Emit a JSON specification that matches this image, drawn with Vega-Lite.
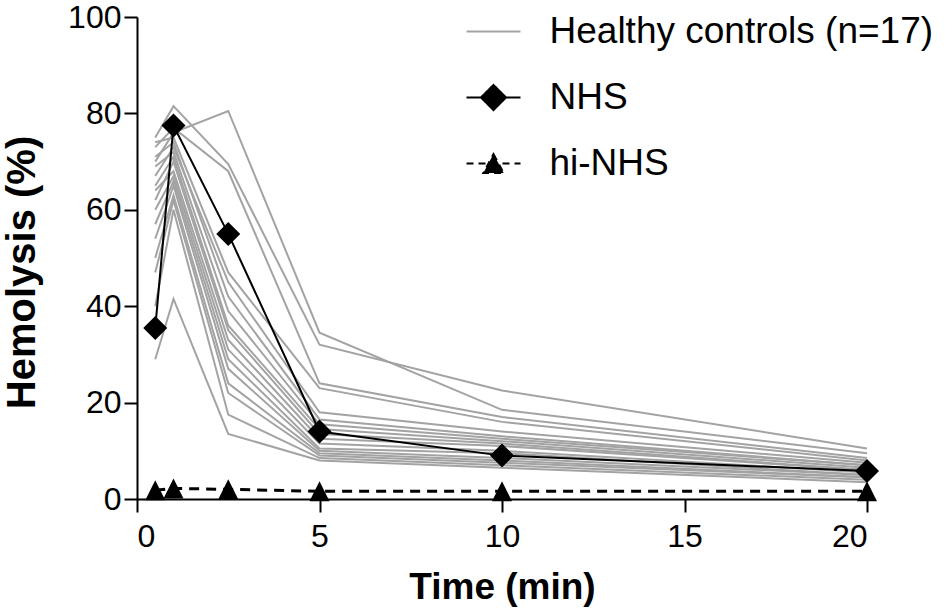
{
  "$schema": "https://vega.github.io/schema/vega-lite/v6.json",
  "width": 730,
  "height": 482,
  "autosize": {"type": "none"},
  "padding": {"left": 137, "top": 17, "right": 78, "bottom": 110},
  "background": "white",
  "config": {
    "view": {"stroke": null},
    "axis": {
      "grid": false,
      "domainColor": "black",
      "domainWidth": 2,
      "tickColor": "black",
      "tickWidth": 2,
      "tickSize": 13,
      "labelFont": "Liberation Sans",
      "labelFontSize": 32,
      "labelColor": "black",
      "titleFont": "Liberation Sans",
      "titleFontWeight": "bold",
      "titleColor": "black"
    }
  },
  "data": {
    "values": [
      {"group": "Healthy controls (n=17)", "subject": "H1", "time": 0.5, "value": 70},
      {"group": "Healthy controls (n=17)", "subject": "H1", "time": 1, "value": 76},
      {"group": "Healthy controls (n=17)", "subject": "H1", "time": 2.5, "value": 80.5},
      {"group": "Healthy controls (n=17)", "subject": "H1", "time": 5, "value": 34.5},
      {"group": "Healthy controls (n=17)", "subject": "H1", "time": 10, "value": 18.5},
      {"group": "Healthy controls (n=17)", "subject": "H1", "time": 20, "value": 9.5},
      {"group": "Healthy controls (n=17)", "subject": "H2", "time": 0.5, "value": 75},
      {"group": "Healthy controls (n=17)", "subject": "H2", "time": 1, "value": 81.5},
      {"group": "Healthy controls (n=17)", "subject": "H2", "time": 2.5, "value": 69.5},
      {"group": "Healthy controls (n=17)", "subject": "H2", "time": 5, "value": 32},
      {"group": "Healthy controls (n=17)", "subject": "H2", "time": 10, "value": 22.5},
      {"group": "Healthy controls (n=17)", "subject": "H2", "time": 20, "value": 10.5},
      {"group": "Healthy controls (n=17)", "subject": "H3", "time": 0.5, "value": 73},
      {"group": "Healthy controls (n=17)", "subject": "H3", "time": 1, "value": 77},
      {"group": "Healthy controls (n=17)", "subject": "H3", "time": 2.5, "value": 68},
      {"group": "Healthy controls (n=17)", "subject": "H3", "time": 5, "value": 24},
      {"group": "Healthy controls (n=17)", "subject": "H3", "time": 10, "value": 17},
      {"group": "Healthy controls (n=17)", "subject": "H3", "time": 20, "value": 8.5},
      {"group": "Healthy controls (n=17)", "subject": "H4", "time": 0.5, "value": 74},
      {"group": "Healthy controls (n=17)", "subject": "H4", "time": 1, "value": 75},
      {"group": "Healthy controls (n=17)", "subject": "H4", "time": 2.5, "value": 47},
      {"group": "Healthy controls (n=17)", "subject": "H4", "time": 5, "value": 23},
      {"group": "Healthy controls (n=17)", "subject": "H4", "time": 10, "value": 16},
      {"group": "Healthy controls (n=17)", "subject": "H4", "time": 20, "value": 8},
      {"group": "Healthy controls (n=17)", "subject": "H5", "time": 0.5, "value": 67},
      {"group": "Healthy controls (n=17)", "subject": "H5", "time": 1, "value": 73},
      {"group": "Healthy controls (n=17)", "subject": "H5", "time": 2.5, "value": 45},
      {"group": "Healthy controls (n=17)", "subject": "H5", "time": 5, "value": 18},
      {"group": "Healthy controls (n=17)", "subject": "H5", "time": 10, "value": 14},
      {"group": "Healthy controls (n=17)", "subject": "H5", "time": 20, "value": 7.5},
      {"group": "Healthy controls (n=17)", "subject": "H6", "time": 0.5, "value": 71},
      {"group": "Healthy controls (n=17)", "subject": "H6", "time": 1, "value": 74},
      {"group": "Healthy controls (n=17)", "subject": "H6", "time": 2.5, "value": 42},
      {"group": "Healthy controls (n=17)", "subject": "H6", "time": 5, "value": 16.5},
      {"group": "Healthy controls (n=17)", "subject": "H6", "time": 10, "value": 13},
      {"group": "Healthy controls (n=17)", "subject": "H6", "time": 20, "value": 7},
      {"group": "Healthy controls (n=17)", "subject": "H7", "time": 0.5, "value": 69},
      {"group": "Healthy controls (n=17)", "subject": "H7", "time": 1, "value": 72},
      {"group": "Healthy controls (n=17)", "subject": "H7", "time": 2.5, "value": 39},
      {"group": "Healthy controls (n=17)", "subject": "H7", "time": 5, "value": 15.5},
      {"group": "Healthy controls (n=17)", "subject": "H7", "time": 10, "value": 12.5},
      {"group": "Healthy controls (n=17)", "subject": "H7", "time": 20, "value": 7},
      {"group": "Healthy controls (n=17)", "subject": "H8", "time": 0.5, "value": 65},
      {"group": "Healthy controls (n=17)", "subject": "H8", "time": 1, "value": 71},
      {"group": "Healthy controls (n=17)", "subject": "H8", "time": 2.5, "value": 36},
      {"group": "Healthy controls (n=17)", "subject": "H8", "time": 5, "value": 14.5},
      {"group": "Healthy controls (n=17)", "subject": "H8", "time": 10, "value": 12},
      {"group": "Healthy controls (n=17)", "subject": "H8", "time": 20, "value": 6.5},
      {"group": "Healthy controls (n=17)", "subject": "H9", "time": 0.5, "value": 62},
      {"group": "Healthy controls (n=17)", "subject": "H9", "time": 1, "value": 70},
      {"group": "Healthy controls (n=17)", "subject": "H9", "time": 2.5, "value": 35},
      {"group": "Healthy controls (n=17)", "subject": "H9", "time": 5, "value": 13.5},
      {"group": "Healthy controls (n=17)", "subject": "H9", "time": 10, "value": 11.5},
      {"group": "Healthy controls (n=17)", "subject": "H9", "time": 20, "value": 6},
      {"group": "Healthy controls (n=17)", "subject": "H10", "time": 0.5, "value": 64},
      {"group": "Healthy controls (n=17)", "subject": "H10", "time": 1, "value": 68},
      {"group": "Healthy controls (n=17)", "subject": "H10", "time": 2.5, "value": 33},
      {"group": "Healthy controls (n=17)", "subject": "H10", "time": 5, "value": 12.5},
      {"group": "Healthy controls (n=17)", "subject": "H10", "time": 10, "value": 11},
      {"group": "Healthy controls (n=17)", "subject": "H10", "time": 20, "value": 6},
      {"group": "Healthy controls (n=17)", "subject": "H11", "time": 0.5, "value": 60},
      {"group": "Healthy controls (n=17)", "subject": "H11", "time": 1, "value": 67},
      {"group": "Healthy controls (n=17)", "subject": "H11", "time": 2.5, "value": 31},
      {"group": "Healthy controls (n=17)", "subject": "H11", "time": 5, "value": 11.5},
      {"group": "Healthy controls (n=17)", "subject": "H11", "time": 10, "value": 10},
      {"group": "Healthy controls (n=17)", "subject": "H11", "time": 20, "value": 5.5},
      {"group": "Healthy controls (n=17)", "subject": "H12", "time": 0.5, "value": 57},
      {"group": "Healthy controls (n=17)", "subject": "H12", "time": 1, "value": 66},
      {"group": "Healthy controls (n=17)", "subject": "H12", "time": 2.5, "value": 29},
      {"group": "Healthy controls (n=17)", "subject": "H12", "time": 5, "value": 10.5},
      {"group": "Healthy controls (n=17)", "subject": "H12", "time": 10, "value": 9.5},
      {"group": "Healthy controls (n=17)", "subject": "H12", "time": 20, "value": 5},
      {"group": "Healthy controls (n=17)", "subject": "H13", "time": 0.5, "value": 54},
      {"group": "Healthy controls (n=17)", "subject": "H13", "time": 1, "value": 65},
      {"group": "Healthy controls (n=17)", "subject": "H13", "time": 2.5, "value": 27},
      {"group": "Healthy controls (n=17)", "subject": "H13", "time": 5, "value": 10},
      {"group": "Healthy controls (n=17)", "subject": "H13", "time": 10, "value": 8.5},
      {"group": "Healthy controls (n=17)", "subject": "H13", "time": 20, "value": 5},
      {"group": "Healthy controls (n=17)", "subject": "H14", "time": 0.5, "value": 50},
      {"group": "Healthy controls (n=17)", "subject": "H14", "time": 1, "value": 63},
      {"group": "Healthy controls (n=17)", "subject": "H14", "time": 2.5, "value": 24},
      {"group": "Healthy controls (n=17)", "subject": "H14", "time": 5, "value": 9.5},
      {"group": "Healthy controls (n=17)", "subject": "H14", "time": 10, "value": 8},
      {"group": "Healthy controls (n=17)", "subject": "H14", "time": 20, "value": 4.5},
      {"group": "Healthy controls (n=17)", "subject": "H15", "time": 0.5, "value": 47},
      {"group": "Healthy controls (n=17)", "subject": "H15", "time": 1, "value": 62},
      {"group": "Healthy controls (n=17)", "subject": "H15", "time": 2.5, "value": 22},
      {"group": "Healthy controls (n=17)", "subject": "H15", "time": 5, "value": 9},
      {"group": "Healthy controls (n=17)", "subject": "H15", "time": 10, "value": 7.5},
      {"group": "Healthy controls (n=17)", "subject": "H15", "time": 20, "value": 4.5},
      {"group": "Healthy controls (n=17)", "subject": "H16", "time": 0.5, "value": 40},
      {"group": "Healthy controls (n=17)", "subject": "H16", "time": 1, "value": 60},
      {"group": "Healthy controls (n=17)", "subject": "H16", "time": 2.5, "value": 17.5},
      {"group": "Healthy controls (n=17)", "subject": "H16", "time": 5, "value": 8.5},
      {"group": "Healthy controls (n=17)", "subject": "H16", "time": 10, "value": 7},
      {"group": "Healthy controls (n=17)", "subject": "H16", "time": 20, "value": 4},
      {"group": "Healthy controls (n=17)", "subject": "H17", "time": 0.5, "value": 29},
      {"group": "Healthy controls (n=17)", "subject": "H17", "time": 1, "value": 41.5},
      {"group": "Healthy controls (n=17)", "subject": "H17", "time": 2.5, "value": 13.5},
      {"group": "Healthy controls (n=17)", "subject": "H17", "time": 5, "value": 8},
      {"group": "Healthy controls (n=17)", "subject": "H17", "time": 10, "value": 6.5},
      {"group": "Healthy controls (n=17)", "subject": "H17", "time": 20, "value": 3.5},
      {"group": "NHS", "subject": "NHS", "time": 0.5, "value": 35.5},
      {"group": "NHS", "subject": "NHS", "time": 1, "value": 77.5},
      {"group": "NHS", "subject": "NHS", "time": 2.5, "value": 55},
      {"group": "NHS", "subject": "NHS", "time": 5, "value": 14},
      {"group": "NHS", "subject": "NHS", "time": 10, "value": 9},
      {"group": "NHS", "subject": "NHS", "time": 20, "value": 5.8},
      {"group": "hi-NHS", "subject": "hi-NHS", "time": 0.5, "value": 1.8},
      {"group": "hi-NHS", "subject": "hi-NHS", "time": 1, "value": 2.2},
      {"group": "hi-NHS", "subject": "hi-NHS", "time": 2.5, "value": 2.0},
      {"group": "hi-NHS", "subject": "hi-NHS", "time": 5, "value": 1.6},
      {"group": "hi-NHS", "subject": "hi-NHS", "time": 10, "value": 1.6},
      {"group": "hi-NHS", "subject": "hi-NHS", "time": 20, "value": 1.6}
    ]
  },
  "encoding": {
    "x": {
      "field": "time",
      "type": "quantitative",
      "scale": {"domain": [0, 20], "nice": false},
      "axis": {
        "values": [0, 5, 10, 15, 20],
        "title": "Time (min)",
        "titleFontSize": 37,
        "titleBaseline": "alphabetic",
        "titleY": 99,
        "labelPadding": 9
      }
    },
    "y": {
      "field": "value",
      "type": "quantitative",
      "scale": {"domain": [0, 100], "nice": false},
      "axis": {
        "values": [0, 20, 40, 60, 80, 100],
        "title": "Hemolysis (%)",
        "titleFontSize": 40,
        "titleAngle": 270,
        "titleAlign": "center",
        "titleBaseline": "middle",
        "titleX": -115,
        "titleY": 255,
        "labelPadding": 3
      }
    }
  },
  "layer": [
    {
      "transform": [{"filter": "datum.group === 'Healthy controls (n=17)'"}],
      "mark": {"type": "line", "color": "#a3a3a3", "strokeWidth": 2},
      "encoding": {"detail": {"field": "subject"}}
    },
    {
      "transform": [{"filter": "datum.group === 'NHS'"}],
      "mark": {"type": "line", "color": "black", "strokeWidth": 2}
    },
    {
      "transform": [{"filter": "datum.group === 'hi-NHS'"}],
      "mark": {"type": "line", "color": "black", "strokeWidth": 3, "strokeDash": [10, 7]}
    },
    {
      "transform": [{"filter": "datum.group === 'NHS'"}],
      "mark": {"type": "point", "shape": "diamond", "filled": true, "color": "black", "size": 576, "opacity": 1}
    },
    {
      "transform": [{"filter": "datum.group === 'hi-NHS'"}],
      "mark": {"type": "point", "shape": "M0,-1L1,1L-1,1Z", "filled": true, "color": "black", "size": 400, "opacity": 1}
    },
    {
      "transform": [{"filter": "datum.time < 0"}],
      "mark": {"type": "point", "filled": true, "strokeWidth": 2, "size": 729, "opacity": 1},
      "encoding": {
        "shape": {
          "field": "group",
          "type": "nominal",
          "scale": {
            "domain": ["Healthy controls (n=17)", "NHS", "hi-NHS"],
            "range": ["M-2,0H2", "M-2,0H2M0,-0.93L0.93,0L0,0.93L-0.93,0Z", "M-2,0H2M0,-0.7L0.75,0.7L-0.75,0.7Z"]
          },
          "legend": {
            "title": null, "orient": "none", "legendX": 338, "legendY": -4, "padding": 0,
            "labelFont": "Liberation Sans", "labelFontSize": 37, "labelColor": "black", "labelLimit": 0,
            "labelOffset": 37.5, "rowPadding": 28, "symbolSize": 729, "symbolStrokeWidth": 2
          }
        },
        "fill": {
          "field": "group",
          "type": "nominal",
          "scale": {"domain": ["Healthy controls (n=17)", "NHS", "hi-NHS"], "range": ["#a3a3a3", "black", "black"]},
          "legend": {
            "title": null, "orient": "none", "legendX": 338, "legendY": -4, "padding": 0,
            "labelFont": "Liberation Sans", "labelFontSize": 37, "labelColor": "black", "labelLimit": 0,
            "labelOffset": 37.5, "rowPadding": 28, "symbolSize": 729, "symbolStrokeWidth": 2
          }
        },
        "stroke": {
          "field": "group",
          "type": "nominal",
          "scale": {"domain": ["Healthy controls (n=17)", "NHS", "hi-NHS"], "range": ["#a3a3a3", "black", "black"]},
          "legend": {
            "title": null, "orient": "none", "legendX": 338, "legendY": -4, "padding": 0,
            "labelFont": "Liberation Sans", "labelFontSize": 37, "labelColor": "black", "labelLimit": 0,
            "labelOffset": 37.5, "rowPadding": 28, "symbolSize": 729, "symbolStrokeWidth": 2
          }
        },
        "strokeDash": {
          "field": "group",
          "type": "nominal",
          "scale": {"domain": ["Healthy controls (n=17)", "NHS", "hi-NHS"], "range": [[1, 0], [1, 0], [7, 5]]},
          "legend": {
            "title": null, "orient": "none", "legendX": 338, "legendY": -4, "padding": 0,
            "labelFont": "Liberation Sans", "labelFontSize": 37, "labelColor": "black", "labelLimit": 0,
            "labelOffset": 37.5, "rowPadding": 28, "symbolSize": 729, "symbolStrokeWidth": 2
          }
        }
      }
    }
  ]
}
